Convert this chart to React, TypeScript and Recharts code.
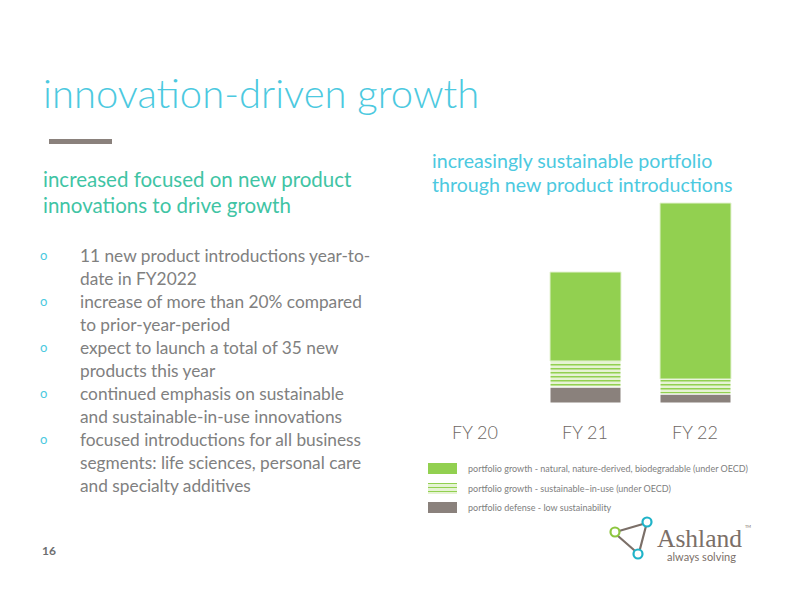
import React from 'react';
import { BarChart, Bar, XAxis, YAxis } from 'recharts';

// chart values (relative units)
const years = ['FY 20', 'FY 21', 'FY 22'];
const defense = [0, 16, 9];
const sustainableInUse = [0, 26, 15];
const natural = [0, 89, 176];

const bullets = [
  ['11 new product introductions year-to-', 'date in FY2022'],
  ['increase of more than 20% compared', 'to prior-year-period'],
  ['expect to launch a total of 35 new', 'products this year'],
  ['continued emphasis on sustainable', 'and sustainable-in-use innovations'],
  ['focused introductions for all business', 'segments: life sciences, personal care', 'and specialty additives'],
];

const legendItems = [
  { key: 'natural', label: 'portfolio growth - natural, nature-derived, biodegradable (under OECD)' },
  { key: 'inuse', label: 'portfolio growth - sustainable–in-use (under OECD)' },
  { key: 'defense', label: 'portfolio defense - low sustainability' },
];

const GREEN = '#92d050';
const GRAY = '#8a817c';
const CYAN = '#4cc9e0';
const TEAL = '#40c4a4';
const TEXT = '#808080';
const FONT = 'Lato, "Open Sans", sans-serif';

const data = years.map((name, i) => ({
  name,
  defense: defense[i],
  inuse: sustainableInUse[i],
  natural: natural[i],
}));

const stripeBg = `repeating-linear-gradient(to bottom, ${GREEN} 0px, ${GREEN} 1.5px, #e6f3d4 1.5px, #e6f3d4 4px)`;

const Swatch: React.FC<{ kind: string }> = ({ kind }) => {
  const bg = kind === 'natural' ? GREEN : kind === 'defense' ? GRAY : stripeBg;
  return <div style={{ width: 29, height: 11, background: bg }} />;
};

const Logo: React.FC = () => (
  <svg width={180} height={60} style={{ position: 'absolute', left: 590, top: 512 }}>
    <g stroke="#7b6f68" strokeWidth={2.2} strokeLinecap="round">
      <line x1={29} y1={19} x2={53} y2={12} />
      <line x1={56} y1={14} x2={50} y2={37} />
      <line x1={28} y1={24} x2={44} y2={38} />
    </g>
    <circle cx={25} cy={20} r={4.5} fill="#fff" stroke="#8dc63f" strokeWidth={2.2} />
    <circle cx={57} cy={10} r={4.5} fill="#fff" stroke="#1fb3c8" strokeWidth={2.2} />
    <circle cx={48} cy={42} r={4.5} fill="#fff" stroke="#1fb3c8" strokeWidth={2.2} />
    <text x={67} y={35} fontFamily='"Liberation Serif", serif' fontSize={25} fill="#7b6f68" textLength={85} lengthAdjust="spacingAndGlyphs">Ashland</text>
    <text x={155} y={16} fontFamily={FONT} fontSize={4} fill="#7b6f68">TM</text>
    <text x={77} y={49} fontFamily={FONT} fontSize={11} fill="#7b6f68">always solving</text>
  </svg>
);

export default function App() {
  return (
    <div style={{ position: 'absolute', left: 0, top: 0, width: 792, height: 612, background: '#fff', fontFamily: FONT, overflow: 'hidden' }}>
      <div style={{ position: 'absolute', left: 43, top: 69, fontSize: 40, color: CYAN, fontWeight: 300, whiteSpace: 'nowrap' }}>
        innovation-driven growth
      </div>
      <div style={{ position: 'absolute', left: 49, top: 139, width: 63, height: 5, background: GRAY }} />

      <div style={{ position: 'absolute', left: 43, top: 166, fontSize: 20.5, lineHeight: '26px', color: TEAL, whiteSpace: 'nowrap' }}>
        increased focused on new product<br />innovations to drive growth
      </div>

      <div style={{ position: 'absolute', left: 40, top: 244, fontSize: 17.3, lineHeight: '23px', color: TEXT }}>
        {bullets.map((lines, i) => (
          <div key={i} style={{ position: 'relative', paddingLeft: 40 }}>
            <span style={{ position: 'absolute', left: 0, top: 0, color: CYAN, fontSize: 13 }}>o</span>
            {lines.map((l, j) => (
              <div key={j} style={{ whiteSpace: 'nowrap' }}>{l}</div>
            ))}
          </div>
        ))}
      </div>

      <div style={{ position: 'absolute', left: 432, top: 149, fontSize: 19.6, lineHeight: '24px', color: CYAN, whiteSpace: 'nowrap' }}>
        increasingly sustainable portfolio<br />through new product introductions
      </div>

      <div style={{ position: 'absolute', left: 420, top: 180 }}>
        <BarChart width={340} height={270} data={data} margin={{ top: 23, right: 10, bottom: 0, left: 0 }}>
          <defs>
            <pattern id="inuseStripes" patternUnits="userSpaceOnUse" width={8} height={4}>
              <rect x={0} y={0} width={8} height={4} fill="#e6f3d4" />
              <rect x={0} y={0} width={8} height={1.5} fill={GREEN} />
            </pattern>
          </defs>
          <XAxis
            dataKey="name"
            height={47}
            axisLine={false}
            tickLine={false}
            tickMargin={17}
            tick={{ fill: '#6d6663', fontSize: 18, fontFamily: FONT, fontWeight: 300 }}
            interval={0}
          />
          <YAxis hide domain={[0, 200]} />
          <Bar dataKey="defense" stackId="a" fill={GRAY} stroke="#fff" strokeWidth={1} barSize={71} isAnimationActive={false} />
          <Bar dataKey="inuse" stackId="a" fill="url(#inuseStripes)" stroke="#fff" strokeWidth={1} barSize={71} isAnimationActive={false} />
          <Bar dataKey="natural" stackId="a" fill={GREEN} stroke="#e4f2d2" strokeWidth={1} barSize={71} isAnimationActive={false} />
        </BarChart>
      </div>

      <div style={{ position: 'absolute', left: 428, top: 459, fontSize: 9, color: TEXT }}>
        {legendItems.map((it) => (
          <div key={it.key} style={{ display: 'flex', alignItems: 'center', height: 19.5 }}>
            <Swatch kind={it.key} />
            <span style={{ marginLeft: 11, whiteSpace: 'nowrap' }}>{it.label}</span>
          </div>
        ))}
      </div>

      <Logo />

      <div style={{ position: 'absolute', left: 42, top: 543, fontSize: 12, fontWeight: 700, color: '#6d6e70' }}>16</div>
    </div>
  );
}
